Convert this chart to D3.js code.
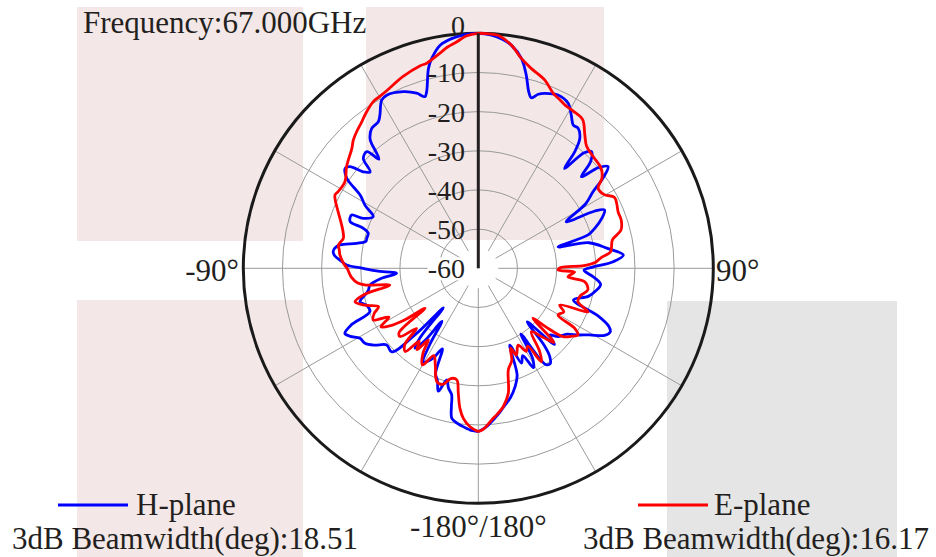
<!DOCTYPE html>
<html>
<head>
<meta charset="utf-8">
<script src="https://cdn.jsdelivr.net/npm/d3@7"></script>
<style>
  html, body { margin: 0; padding: 0; background: #ffffff; }
  svg { display: block; }
  text { font-family: "Liberation Serif", "Times New Roman", serif; fill: #231f20; }
</style>
</head>
<body>
<svg id="chart" width="936" height="557"></svg>
<script>
// ---- data ----
const radialTicks = [0, -10, -20, -30, -40, -50, -60];
const spokeAngles = [30, 60, 90, 120, 150, 180, -150, -120, -90, -60, -30];
const angleLabels = [
  { a: -90, text: "-90°" },
  { a: 90, text: "90°" },
  { a: 180, text: "-180°/180°" }
];
const frequencyLabel = "Frequency:67.000GHz";
const seriesNames = ["H-plane", "E-plane"];
const beamwidths = [18.51, 16.17];

const hAngle = [-180,-177,-175.9,-172.5,-170,-169,-168.1,-166,-164.2,-162,-160,-157.9,-155.9,-153.5,-151.5,-149.5,-147.5,-145.5,-143.5,-141.6,-140,-138.5,-136.5,-134,-129.9,-126.5,-123.5,-120.6,-118,-116,-114,-111.8,-108.5,-105.8,-103,-101.2,-98.8,-96,-93.5,-91.5,-90,-88.6,-86.6,-85,-83.5,-82,-80.4,-78.4,-76.5,-74.9,-72.3,-70.8,-70,-68.5,-67.2,-66.5,-63.8,-61,-58.2,-55.6,-53.1,-51.6,-50,-48.3,-46.3,-43.7,-42.3,-40.5,-39.8,-37.3,-34.3,-32.7,-29.9,-27.9,-23,-19.4,-17.3,-16.3,-14,-12.5,-9.7,-6,-3,0,3,6,8.4,11.6,13.9,16,17.3,19,20.8,24.7,28.5,31.2,33.5,35.5,38,39.6,40.8,42.5,44.1,46.5,48.4,50,51.9,54,56.3,59,62.1,63.8,65.2,68,71,73.1,75,77,81.1,84.8,87.2,89.5,91,94.3,97.5,101,104.3,108.4,111.7,114,115.8,118,121,123.8,127,130.6,133,135,137.5,139.5,141,143,145,147,149,151,153,155.5,157.7,160,162.8,166,169,172,174.4,177,180];
const hGain = [-18.3,-18.7,-19,-20,-21.1,-24,-27,-28.5,-30.4,-27,-29.5,-31,-37.5,-34.5,-33,-32.3,-37,-43.6,-37,-34,-37,-46.5,-37,-29.3,-29.5,-27,-25.3,-24.9,-23,-22.1,-24.5,-30.2,-30,-28.6,-30.5,-31.4,-32,-35,-39.1,-34,-30.6,-26.4,-24.6,-23.2,-22.7,-23,-24.2,-28.3,-30.5,-30.5,-30.5,-28.9,-25.2,-24.8,-24.9,-28,-30.1,-27,-24.5,-19.3,-17.5,-18.2,-21.7,-23,-19.4,-18.8,-22.3,-18,-16.8,-15.1,-14.7,-13.5,-10.5,-10,-11,-12.6,-14.1,-13,-7.4,-5.1,-2.2,-0.8,-0.2,0,-0.3,-1.2,-2.4,-5.3,-9.1,-13.2,-14.4,-13,-12.2,-11.3,-12,-14.2,-16.1,-16.1,-17.9,-21.4,-26.3,-20,-18.5,-20.5,-24.8,-20,-17.9,-20.5,-24.8,-28,-34.6,-27,-24.5,-26,-28.5,-30.7,-38.9,-31,-26.8,-22.8,-25.5,-31,-33,-30.5,-28.5,-29.5,-31,-34.4,-27,-23.5,-22.6,-23.5,-27,-29.4,-32,-33.2,-35,-32.5,-41.5,-34,-31,-29.5,-30,-40,-33,-31,-35,-33.4,-38.8,-31,-28.3,-26,-24.4,-22.5,-21.1,-19.5,-18.3];

const eAngle = [-180,-177,-174.3,-172.5,-170.9,-169.1,-166,-163,-159.9,-156,-153,-150,-147,-145.1,-143,-141,-138.7,-136,-134.2,-131.1,-129,-126.9,-125,-123,-121,-118.6,-116.2,-113.5,-111,-108,-105.2,-103,-100.7,-98.5,-97,-94,-90,-88,-84.5,-82.5,-80.6,-77.5,-75.5,-72.4,-68.2,-65,-62.9,-61.3,-57,-52.3,-46.5,-44.3,-41.7,-38.5,-35.5,-32.2,-29.8,-27.4,-21.4,-16,-14.1,-10.1,-8,-5.4,-3,0,2.5,4.8,8.4,11.6,14.8,19.4,23.2,25.9,28,31,35,38.6,41.5,45.9,51,54,56.2,59.5,62.5,65,68,71.5,75,78,80.5,83,85,87,88.5,89.5,91.2,92.3,95.4,97.2,101.2,105,108.5,111.6,114.3,117,120.4,121.9,123.8,126,128.9,131,132.4,134.5,137,140.1,143.6,146,147.6,150,152.6,156.3,158,160,163.5,166.5,169.8,172.5,175,178,180];
const eGain = [-18.3,-19.5,-21.5,-24,-27.7,-31,-31,-29,-29.2,-33,-35,-31.5,-34,-37.7,-34,-36,-31.7,-33,-38,-33.5,-34,-43,-37,-33,-31,-34,-30.1,-31,-32.7,-29.5,-27.4,-30,-37,-31,-29,-27.5,-26.5,-25.6,-24.5,-24.2,-23.8,-24.7,-24.4,-23.4,-21.5,-19.8,-18.9,-19.2,-19.4,-17.5,-15.5,-14.3,-13.3,-12.2,-10.9,-9.7,-9.4,-9,-7.4,-6.2,-6,-4.2,-3,-1.9,-0.6,0,-0.1,-0.3,-2.4,-5.3,-7.2,-9,-11.4,-12.2,-12.8,-13.1,-13.6,-16.4,-18.3,-19.1,-19.6,-21,-23.2,-22.8,-20.8,-21,-21.5,-21.5,-22.3,-25,-25.5,-26,-28.5,-30,-33,-39,-39.6,-35.4,-37,-32.6,-31.5,-33,-33.2,-29.9,-37.2,-35.5,-36.4,-31,-29.4,-30.5,-32.2,-37.4,-41.1,-33,-36,-38.9,-33.6,-31.2,-36.5,-35.5,-37.9,-35.8,-38,-35,-33,-27.2,-24.1,-22.5,-21.1,-19,-18.3];

// ---- layout ----
const svg = d3.select("#chart");
const cx = 478.3, cy = 268.3, R = 235;
const textColor = "#231f20";

// background blocks
const bg = svg.append("g");
[[77, 7, 226, 234, "#f3e7e7"], [366, 7, 238, 233, "#f3e7e7"],
 [77, 300, 226, 257, "#f3e7e7"], [667, 301, 230, 256, "#e5e5e5"]]
  .forEach(b => bg.append("rect").attr("x", b[0]).attr("y", b[1])
    .attr("width", b[2]).attr("height", b[3]).attr("fill", b[4]));

const r = d3.scaleLinear().domain([-60, 0]).range([0, R]);
const toRad = d => d * Math.PI / 180;

const g = svg.append("g").attr("transform", `translate(${cx},${cy})`);

// rings
g.selectAll("circle.ring").data(radialTicks.filter(t => t < 0 && t > -60))
  .enter().append("circle")
  .attr("r", d => r(d)).attr("fill", "none")
  .attr("stroke", "#9a9a9a").attr("stroke-width", 1);

// spokes
g.selectAll("line.spoke").data(spokeAngles).enter().append("line")
  .attr("x1", d => 20 * Math.sin(toRad(d))).attr("y1", d => -20 * Math.cos(toRad(d)))
  .attr("x2", d => R * Math.sin(toRad(d))).attr("y2", d => -R * Math.cos(toRad(d)))
  .attr("stroke", "#9a9a9a").attr("stroke-width", 1);

// outer ring
g.append("circle").attr("r", r(0)).attr("fill", "none")
  .attr("stroke", "#1a1a1a").attr("stroke-width", 3);

// series
const line = d3.lineRadial()
  .angle(d => toRad(d[0]))
  .radius(d => r(Math.max(-60, d[1])))
  .curve(d3.curveCatmullRom.alpha(0.5));

const hData = hAngle.map((a, i) => [a, hGain[i]]);
const eData = eAngle.map((a, i) => [a, eGain[i]]);

g.append("path").datum(hData).attr("d", line).attr("fill", "none")
  .attr("stroke", "#0000ff").attr("stroke-width", 2.8).attr("stroke-linejoin", "round");
g.append("path").datum(eData).attr("d", line).attr("fill", "none")
  .attr("stroke", "#ff0000").attr("stroke-width", 2.8).attr("stroke-linejoin", "round");

// zero-degree axis
g.append("line").attr("x1", 0).attr("y1", 0).attr("x2", 0).attr("y2", -R)
  .attr("stroke", "#231f20").attr("stroke-width", 3);

// radial tick labels
radialTicks.forEach(t => {
  const y = -r(t);
  const base = t === 0 ? y + 1.8 : y + 10;
  const txt = g.append("text").attr("x", 465 - cx).attr("y", base)
    .attr("text-anchor", "end").attr("font-size", 28).text(t);
  if (t === -60) {
    const bb = txt.node().getBBox();
    g.insert("rect", "text").attr("x", bb.x).attr("y", bb.y + 4)
      .attr("width", bb.width).attr("height", bb.height - 8).attr("fill", "#fff");
  }
});

// angle labels
svg.append("text").attr("x", 239).attr("y", 281).attr("text-anchor", "end")
  .attr("font-size", 31).text(angleLabels[0].text);
svg.append("text").attr("x", 716).attr("y", 281).attr("text-anchor", "start")
  .attr("font-size", 31).text(angleLabels[1].text);
svg.append("text").attr("x", cx).attr("y", 537).attr("text-anchor", "middle")
  .attr("font-size", 31).text(angleLabels[2].text);

// frequency
svg.append("text").attr("x", 83).attr("y", 33).attr("font-size", 31).text(frequencyLabel);

// legend
const legendColors = ["#0000ff", "#ff0000"];
const legendPos = [{ lx: 58, tx: 136, bx: 12 }, { lx: 638, tx: 714, bx: 583 }];
seriesNames.forEach((n, i) => {
  const p = legendPos[i];
  svg.append("line").attr("x1", p.lx).attr("x2", p.lx + 70).attr("y1", 505).attr("y2", 505)
    .attr("stroke", legendColors[i]).attr("stroke-width", 3);
  svg.append("text").attr("x", p.tx).attr("y", 515).attr("font-size", 31).text(n);
  svg.append("text").attr("x", p.bx).attr("y", 549).attr("font-size", 31)
    .text("3dB Beamwidth(deg):" + beamwidths[i].toFixed(2));
});
</script>
</body>
</html>
